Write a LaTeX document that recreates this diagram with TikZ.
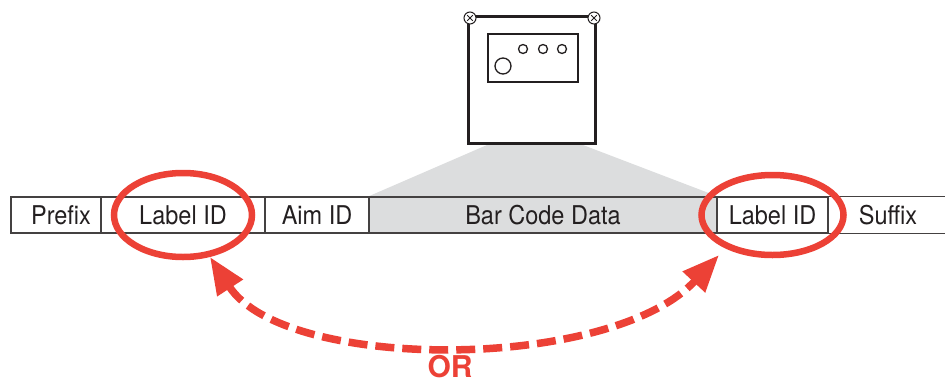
\documentclass[tikz,border=0pt]{standalone}
\usepackage{fontspec}
\setmainfont{TeX Gyre Heros}
\usepackage{tikz}
\usetikzlibrary{arrows.meta,backgrounds}

\definecolor{ink}{HTML}{231F20}
\definecolor{mark}{HTML}{EC4136}
\definecolor{beam}{HTML}{DCDDDE}

\newcommand{\tallish}[1]{\scalebox{1}[1.1]{#1}}

\begin{document}
\begin{tikzpicture}[x=1pt,y=-1pt,
                    font=\fontsize{23.5}{26}\selectfont,text=ink]
  \tikzstyle{cell}=[draw=ink!85,line width=1.2pt,minimum height=36pt,
                    inner sep=0pt,anchor=center]
  \tikzstyle{ring}=[draw=mark,line width=6.5pt]
  \tikzstyle{choice}=[draw=mark,line width=7.5pt,dash pattern=on 19pt off 8pt,
                      {Triangle[length=37pt,width=29pt]}-{Triangle[length=37pt,width=29pt]}]

  \useasboundingbox (0,0) rectangle (945,381);

  % message fields
  \node[cell,minimum width=90pt]  (prefix) at (56,215)    {\hspace{10pt}\tallish{Prefix}};
  \node[cell,minimum width=164pt] (lblA)   at (183,215)   {\tallish{Label ID}};
  \node[cell,minimum width=104pt] (aim)    at (317,215)   {\tallish{Aim ID}};
  \node[cell,minimum width=348pt,fill=beam] (data) at (543,215) {\tallish{Bar Code Data}};
  \node[cell,minimum width=111pt] (lblB)   at (772.5,215) {\tallish{Label ID}};
  \node                           (suffix) at (888,215)   {\tallish{Suffix}};
  \coordinate (edge) at (945,215);
  \draw[draw=ink!85,line width=1.2pt]
        (lblB.north east) -- (lblB.north east -| edge)
        (lblB.south east) -- (lblB.south east -| edge);

  % reader
  \node[draw=ink,line width=3pt,fill=white,minimum width=127pt,
        minimum height=127pt,inner sep=0pt] (reader) at (532,80) {};
  \draw[line width=1.5pt,draw=ink] (488,34) rectangle (578,82);
  \draw[line width=1.3pt,draw=ink] (503,66) circle [radius=8];
  \foreach \x in {523,543,562}
    \draw[line width=1.3pt,draw=ink] (\x,49) circle [radius=4.5];
  \foreach \x in {470,594}{
    \draw[line width=1pt,draw=ink,fill=white] (\x,18) circle [radius=6];
    \draw[line width=1pt,draw=ink] (\x-2.8,15.2) -- (\x+2.8,20.8)
                                   (\x-2.8,20.8) -- (\x+2.8,15.2);
  }

  \begin{scope}[on background layer]
    \fill[beam] ([xshift=-45pt]reader.south) -- ([xshift=51pt]reader.south)
                -- (data.north east) -- (data.north west) -- cycle;
  \end{scope}

  % either position
  \draw[ring] (lblA.center) ellipse [x radius=69, y radius=42];
  \draw[ring] (lblB.center) ellipse [x radius=71, y radius=40];

  \coordinate (tipA) at (210,257);
  \coordinate (tipB) at (719,255);
  \path[choice] (tipA) .. controls (285,372) and (610,372) .. (tipB);

  \node[text=mark,font=\fontsize{30}{32}\selectfont\bfseries,anchor=base]
       (either) at (450,377) {OR};
\end{tikzpicture}
\end{document}
